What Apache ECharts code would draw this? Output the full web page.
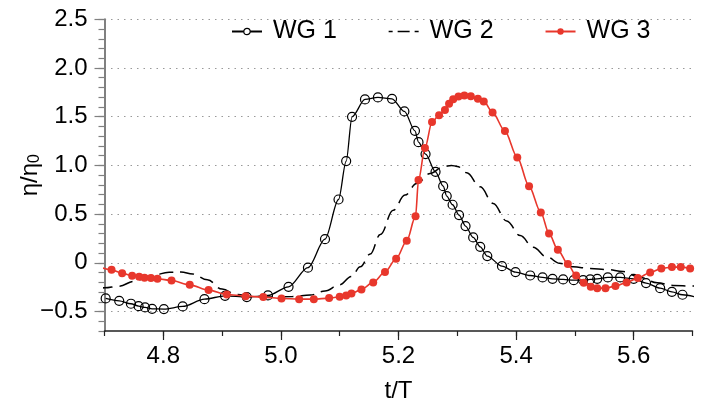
<!DOCTYPE html>
<html>
<head>
<meta charset="utf-8">
<script src="https://cdn.jsdelivr.net/npm/echarts@6/dist/echarts.min.js"></script>
<style>
    html, body { margin: 0; padding: 0; background: #fff; }
    #chart { width: 706px; height: 402px; }
</style>
</head>
<body>
<div id="chart"></div>
<script>
// WG 1 (open circles)
const wg1T = [4.702, 4.725, 4.745, 4.758, 4.769, 4.781, 4.801, 4.833, 4.870, 4.905, 4.942, 4.978, 5.013, 5.046, 5.075, 5.098,
    5.111, 5.121, 5.143, 5.165, 5.189, 5.210, 5.228, 5.234, 5.246, 5.263, 5.276, 5.282, 5.292, 5.303, 5.314, 5.327,
    5.339, 5.351, 5.376, 5.399, 5.424, 5.445, 5.462, 5.480, 5.498, 5.514, 5.526, 5.538, 5.556, 5.577, 5.600, 5.621,
    5.645, 5.665, 5.683, 5.712];
const wg1Y = [-0.366, -0.390, -0.420, -0.445, -0.458, -0.472, -0.475, -0.448, -0.373, -0.339, -0.352, -0.335, -0.246, -0.050, 0.243, 0.650,
    1.044, 1.499, 1.677, 1.698, 1.684, 1.554, 1.355, 1.239, 1.116, 0.934, 0.787, 0.685, 0.596, 0.490, 0.377, 0.261,
    0.164, 0.069, -0.034, -0.095, -0.130, -0.150, -0.164, -0.171, -0.178, -0.178, -0.171, -0.164, -0.150, -0.150, -0.164, -0.208,
    -0.260, -0.298, -0.328, -0.362];

// WG 2 (dashed, no markers)
const wg2T = [4.690, 4.700, 4.725, 4.750, 4.780, 4.810, 4.830, 4.850, 4.875, 4.900, 4.925, 4.950, 4.980, 5.020, 5.050, 5.075,
    5.100, 5.120, 5.135, 5.152, 5.169, 5.191, 5.211, 5.231, 5.254, 5.276, 5.290, 5.300, 5.316, 5.339, 5.361, 5.384,
    5.407, 5.429, 5.452, 5.474, 5.497, 5.526, 5.554, 5.582, 5.611, 5.640, 5.667, 5.700, 5.710];
const wg2Y = [-0.260, -0.257, -0.240, -0.190, -0.130, -0.097, -0.095, -0.115, -0.175, -0.270, -0.325, -0.348, -0.350, -0.345, -0.330, -0.290,
    -0.225, -0.140, -0.040, 0.090, 0.290, 0.540, 0.695, 0.815, 0.918, 0.986, 1.000, 0.990, 0.925, 0.780, 0.610, 0.430,
    0.280, 0.160, 0.062, -0.005, -0.041, -0.058, -0.068, -0.090, -0.150, -0.205, -0.232, -0.239, -0.240];

// WG 3 (red filled circles)
const wg3T = [4.690, 4.712, 4.730, 4.747, 4.759, 4.768, 4.779, 4.790, 4.814, 4.845, 4.877, 4.908, 4.940, 4.970, 5.001, 5.031,
    5.056, 5.082, 5.100, 5.111, 5.120, 5.137, 5.157, 5.177, 5.196, 5.214, 5.229, 5.234, 5.245, 5.257, 5.269, 5.279,
    5.286, 5.293, 5.302, 5.312, 5.323, 5.335, 5.345, 5.360, 5.381, 5.402, 5.422, 5.442, 5.456, 5.471, 5.488, 5.502,
    5.515, 5.527, 5.538, 5.552, 5.569, 5.588, 5.607, 5.628, 5.647, 5.665, 5.680, 5.696];
const wg3Y = [-0.040, -0.072, -0.106, -0.133, -0.144, -0.154, -0.157, -0.164, -0.181, -0.226, -0.280, -0.325, -0.342, -0.352, -0.366, -0.373,
    -0.373, -0.362, -0.349, -0.335, -0.315, -0.273, -0.201, -0.095, 0.041, 0.226, 0.479, 0.849, 1.178, 1.445, 1.516, 1.568,
    1.632, 1.680, 1.708, 1.718, 1.711, 1.684, 1.657, 1.544, 1.352, 1.082, 0.787, 0.517, 0.302, 0.133, -0.013, -0.130,
    -0.205, -0.246, -0.260, -0.260, -0.239, -0.201, -0.157, -0.099, -0.058, -0.044, -0.044, -0.058];

const seriesNames = ['WG 1', 'WG 2', 'WG 3'];
const xRange = [4.7, 5.7];
const yRange = [-0.7, 2.5];
const xMajorRange = [4.8, 5.6];
const yMajorRange = [-0.5, 2.5];

const FONT = 'Liberation Sans';
const RED = '#e8372c';

function zip(t, y) {
    return t.map((v, i) => [v, y[i]]);
}

function yLabel(v) {
    if (Math.abs(v) < 1e-9) return '0';
    if (v < 0) return '\u2212' + Math.abs(v).toFixed(1);
    return v.toFixed(1);
}

const hidden = { show: false };

const option = {
    animation: false,
    backgroundColor: '#fff',
    grid: [
        // data grid
        { left: 104.5, top: 19.3, width: 588, height: 311.7, outerBoundsMode: 'none' },
        // major y ticks / grid lines
        { left: 104.5, top: 19.3, width: 588, height: 292.2, outerBoundsMode: 'none' },
        // major x ticks
        { left: 163.3, top: 19.3, width: 470.4, height: 311.7, outerBoundsMode: 'none' }
    ],
    legend: {
        left: 231,
        top: 19,
        padding: 0,
        itemWidth: 30,
        itemHeight: 8,
        itemGap: 51,
        selectedMode: false,
        textStyle: { fontFamily: FONT, fontSize: 25, color: '#000', padding: [0, 0, 0, 6] },
        data: [
            { name: 'WG 1', itemStyle: { color: '#fff', borderColor: '#000', borderWidth: 1.2 } },
            {
                name: 'WG 2',
                itemStyle: { color: 'rgba(0,0,0,0)', borderWidth: 0 },
                lineStyle: { color: '#000', width: 1.5, type: [12, 5], dashOffset: 8 }
            },
            { name: 'WG 3' }
        ]
    },
    xAxis: [
        {
            gridIndex: 0, type: 'value', min: xRange[0], max: xRange[1], interval: 0.1,
            name: 't/T', nameLocation: 'middle', nameGap: 48,
            nameTextStyle: { fontFamily: FONT, fontSize: 24, color: '#000' },
            axisLine: { show: true, onZero: false, lineStyle: { color: '#222', width: 1.5 } },
            axisTick: { show: true, length: 5, lineStyle: { color: '#222', width: 1.2 } },
            axisLabel: hidden,
            splitLine: hidden
        },
        { gridIndex: 1, type: 'value', min: 0, max: 1, show: false },
        {
            gridIndex: 2, type: 'value', min: xMajorRange[0], max: xMajorRange[1], interval: 0.2,
            axisLine: { show: false, onZero: false },
            axisTick: { show: true, length: 9, lineStyle: { color: '#222', width: 1.2 } },
            axisLabel: {
                margin: 13, fontFamily: FONT, fontSize: 24, color: '#000',
                formatter: v => v.toFixed(1)
            },
            splitLine: hidden
        }
    ],
    yAxis: [
        {
            gridIndex: 0, type: 'value', min: yRange[0], max: yRange[1], interval: 0.1,
            name: '{a|\u03b7/\u03b7}{s|0}', nameLocation: 'middle', nameGap: 62,
            nameTextStyle: {
                fontFamily: FONT, fontSize: 24, color: '#000',
                rich: {
                    a: { fontFamily: FONT, fontSize: 24, color: '#000', lineHeight: 28, verticalAlign: 'bottom' },
                    s: { fontFamily: FONT, fontSize: 16, color: '#000', lineHeight: 12, verticalAlign: 'bottom' }
                }
            },
            axisLine: { show: true, onZero: false, lineStyle: { color: '#808080', width: 2 } },
            axisTick: { show: true, length: 6, lineStyle: { color: '#808080', width: 1.2 } },
            axisLabel: hidden,
            splitLine: hidden
        },
        {
            gridIndex: 1, type: 'value', min: yMajorRange[0], max: yMajorRange[1], interval: 0.5,
            axisLine: { show: false, onZero: false },
            axisTick: { show: true, length: 10, lineStyle: { color: '#808080', width: 1.2 } },
            axisLabel: { margin: 17, fontFamily: FONT, fontSize: 24, color: '#000', formatter: yLabel },
            splitLine: { show: true, lineStyle: { color: '#999', width: 1, type: [1.5, 5] } }
        },
        { gridIndex: 2, type: 'value', min: 0, max: 1, show: false }
    ],
    series: [
        {
            name: seriesNames[0], type: 'line', xAxisIndex: 0, yAxisIndex: 0,
            data: zip(wg1T, wg1Y),
            smooth: 0.3, smoothMonotone: 'x',
            symbol: 'circle', symbolSize: 9, showAllSymbol: true,
            lineStyle: { color: '#000', width: 1.3 },
            itemStyle: { color: 'rgba(0,0,0,0)', borderColor: '#000', borderWidth: 1.2 },
            emphasis: { disabled: true },
            z: 3
        },
        {
            name: seriesNames[1], type: 'line', xAxisIndex: 0, yAxisIndex: 0,
            data: zip(wg2T, wg2Y),
            smooth: 0.4, smoothMonotone: 'x',
            symbol: 'none',
            lineStyle: { color: '#000', width: 1.5, type: [14, 7] },
            itemStyle: { color: '#000' },
            emphasis: { disabled: true },
            z: 2
        },
        {
            name: seriesNames[2], type: 'line', xAxisIndex: 0, yAxisIndex: 0,
            data: zip(wg3T, wg3Y),
            smooth: 0.3, smoothMonotone: 'x',
            symbol: 'circle', symbolSize: 8, showAllSymbol: true,
            lineStyle: { color: RED, width: 1.6 },
            itemStyle: { color: RED },
            emphasis: { disabled: true },
            z: 4
        }
    ]
};

const chart = echarts.init(document.getElementById('chart'), null, { renderer: 'canvas' });
chart.setOption(option);
</script>
</body>
</html>
